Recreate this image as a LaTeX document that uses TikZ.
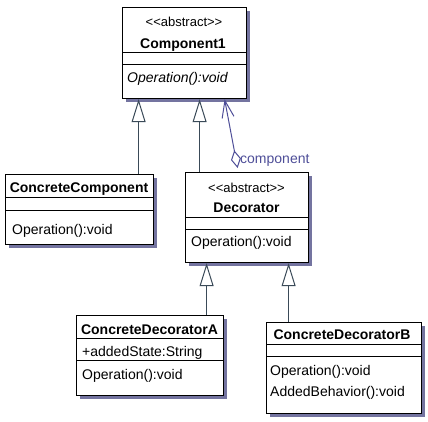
\documentclass[tikz,border=0pt]{standalone}
\usepackage{fontspec}
\setmainfont{Liberation Sans}
\usetikzlibrary{arrows.meta,shadows,calc}
\definecolor{shadowc}{HTML}{7474A0}
\definecolor{inhc}{HTML}{3A4A58}
\definecolor{assc}{HTML}{4E4E98}
\newcommand{\abst}{{<}{<}abstract{>}{>}}
\begin{document}
\begin{tikzpicture}[x=1pt,y=-1pt,
  umlbox/.style={draw=black,line width=1.2pt,fill=white,inner sep=0pt,anchor=north west,
    drop shadow={shadow xshift=3pt,shadow yshift=-3pt,fill=shadowc,opacity=1}},
  txt/.style={inner sep=0pt,font=\fontsize{14}{16}\selectfont},
  nm/.style={txt,font=\fontsize{14}{16}\selectfont\bfseries},
  stereo/.style={inner sep=0pt,font=\fontsize{13}{15}\selectfont},
  mem/.style={txt,anchor=west},
  div/.style={draw=black,line width=1pt},
  inh/.style={draw=inhc,line width=1pt,-{Triangle[open,length=23pt,width=14pt,line width=1pt]}},
  assoc/.style={draw=assc,line width=1pt,{Diamond[open,length=18pt,width=10pt,line width=1pt]}-{Straight Barb[length=17pt,width=12pt,line width=1pt]}}
]
\useasboundingbox (0,0) rectangle (428,421);

% Component1
\node[umlbox,minimum width=124pt,minimum height=91pt] (c1) at (122,7) {};
\node[stereo] (c1s) at (184,22) {\abst};
\node[nm] (c1n) at (183,45) {Component1};
\draw[div] (c1.west |- 0,52) -- (c1.east |- 0,52);
\draw[div] (c1.west |- 0,64) -- (c1.east |- 0,64);
\node[mem,font=\fontsize{14}{16}\selectfont\itshape] (c1o) at (127,79) {Operation():void};

% ConcreteComponent
\node[umlbox,minimum width=148pt,minimum height=70pt] (cc) at (5,174) {};
\node[nm] (ccn) at (79,189) {ConcreteComponent};
\draw[div] (cc.west |- 0,197) -- (cc.east |- 0,197);
\draw[div] (cc.west |- 0,210) -- (cc.east |- 0,210);
\node[mem] (cco) at (12,231) {Operation():void};

% Decorator
\node[umlbox,minimum width=123pt,minimum height=90pt] (dec) at (185,172) {};
\node[stereo] (decs) at (246.5,188) {\abst};
\node[nm] (decn) at (246.5,208) {Decorator};
\draw[div] (dec.west |- 0,217) -- (dec.east |- 0,217);
\draw[div] (dec.west |- 0,229) -- (dec.east |- 0,229);
\node[mem] (deco) at (191,243) {Operation():void};

% ConcreteDecoratorA
\node[umlbox,minimum width=147pt,minimum height=80pt] (cda) at (76,315) {};
\node[nm] (cdan) at (149.5,330) {ConcreteDecoratorA};
\draw[div] (cda.west |- 0,338) -- (cda.east |- 0,338);
\node[mem] (cdaa) at (82,353) {+addedState:String};
\draw[div] (cda.west |- 0,360) -- (cda.east |- 0,360);
\node[mem] (cdao) at (82,376) {Operation():void};

% ConcreteDecoratorB
\node[umlbox,minimum width=155pt,minimum height=91pt] (cdb) at (266,322) {};
\node[nm] (cdbn) at (342,335) {ConcreteDecoratorB};
\draw[div] (cdb.west |- 0,344) -- (cdb.east |- 0,344);
\draw[div] (cdb.west |- 0,356) -- (cdb.east |- 0,356);
\node[mem] (cdbo) at (270,372) {Operation():void};
\node[mem] (cdbb) at (270,393) {AddedBehavior():void};

% generalisations
\draw[inh] ([xshift=59pt]cc.north) -- ([xshift=59pt]cc.north |- c1.south);
\draw[inh] ([xshift=-47.5pt]dec.north) -- ([xshift=-47.5pt]dec.north |- c1.south);
\draw[inh] ([xshift=56.5pt]cda.north) -- ([xshift=56.5pt]cda.north |- dec.south);
\draw[inh] ([xshift=-55.5pt]cdb.north) -- ([xshift=-55.5pt]cdb.north |- dec.south);

% aggregation
\draw[assoc] ([xshift=-9.5pt,yshift=4pt]dec.north) -- ([xshift=40pt]c1.south);
\node[txt,anchor=west,text=assc] (lbl) at (240,160) {component};
\end{tikzpicture}
\end{document}
